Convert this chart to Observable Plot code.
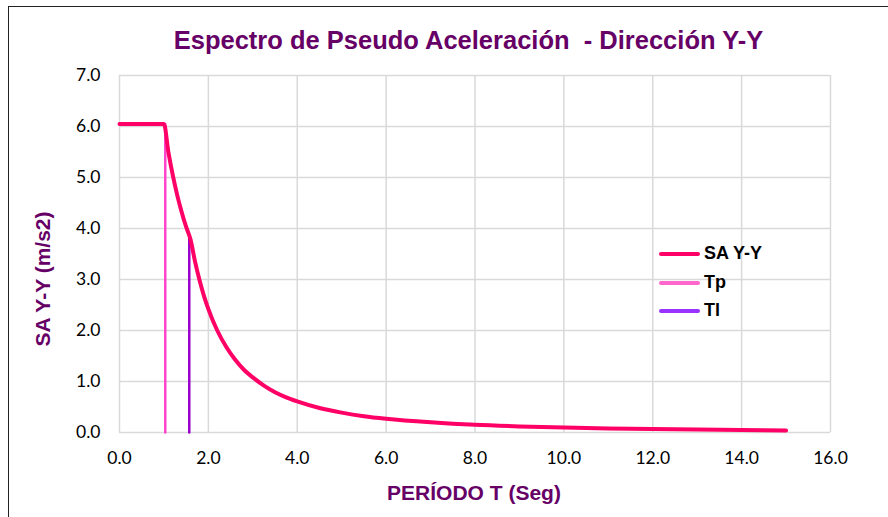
<!DOCTYPE html>
<html>
<head>
<meta charset="utf-8">
<script src="https://cdn.jsdelivr.net/npm/d3@7"></script>
<script src="https://cdn.jsdelivr.net/npm/@observablehq/plot@0.6"></script>
<style>
  html, body { margin: 0; padding: 0; background: #fff; }
  #wrap { position: relative; width: 888px; height: 517px; overflow: hidden; }
  #frame { position: absolute; left: 8px; top: 6px; width: 900px; height: 600px; border-left: 1.5px solid #222; border-top: 1.5px solid #222; box-sizing: border-box; }
  #chart { position: absolute; left: 0; top: 0; }
  .title { position: absolute; left: 0; width: 937px; top: 26px; text-align: center; font: bold 25.5px "Liberation Sans", Arial, sans-serif; color: #660066; white-space: pre; }
  .xlabel { position: absolute; left: 0; width: 948px; top: 481px; text-align: center; font: bold 21px "Liberation Sans", Arial, sans-serif; color: #660066; }
  .ylabel { position: absolute; left: 43px; top: 279px; transform: translate(-50%, -50%) rotate(-90deg); font: bold 21px "Liberation Sans", Arial, sans-serif; color: #660066; white-space: nowrap; }
  .leg { position: absolute; left: 659px; font: bold 18px "Liberation Sans", Arial, sans-serif; color: #000; display: flex; align-items: center; }
  .leg span.sw { display: inline-block; flex: 0 0 41px; width: 41px; height: 4px; border-radius: 2px; margin-right: 4px; }
</style>
</head>
<body>
<div id="wrap">
  <div id="frame"></div>
  <div id="chart"></div>
  <div class="title">Espectro de Pseudo Aceleración  - Dirección Y-Y</div>
  <div class="xlabel">PERÍODO T (Seg)</div>
  <div class="ylabel">SA Y-Y (m/s2)</div>
</div>
<script>
// Spectrum values
const periodT = [0, 0.5, 1.0, 1.1, 1.2, 1.3, 1.4, 1.5, 1.6, 1.7, 1.8, 1.9, 2.0, 2.2, 2.4, 2.6, 2.8, 3.0, 3.25, 3.5, 3.75, 4.0, 4.5, 5.0, 5.5, 6.0, 7.0, 8.0, 9.0, 10.0, 11.0, 12.0, 13.0, 14.0, 15.0];
const saYY    = [6.05, 6.05, 6.05, 5.50, 5.04, 4.65, 4.32, 4.03, 3.78, 3.35, 2.99, 2.68, 2.42, 2.00, 1.68, 1.43, 1.23, 1.08, 0.92, 0.79, 0.69, 0.61, 0.48, 0.39, 0.32, 0.27, 0.20, 0.15, 0.12, 0.10, 0.08, 0.07, 0.06, 0.05, 0.04];
const tpX = [1.03, 1.03];
const tpY = [0, 6.05];
const tlX = [1.57, 1.57];
const tlY = [0, 3.85];
const xTicks = [0, 2, 4, 6, 8, 10, 12, 14, 16];
const yTicks = [0, 1, 2, 3, 4, 5, 6, 7];
const seriesNames = ["SA Y-Y", "Tp", "Tl"];
const seriesColors = ["#FF0066", "#FF44CC", "#9900CC"];
const legendColors = ["#FF0066", "#FF66CC", "#9933FF"];

const sa = periodT.map((t, i) => ({t, v: saYY[i]}));
const tp = tpX.map((t, i) => ({t, v: tpY[i]}));
const tl = tlX.map((t, i) => ({t, v: tlY[i]}));

const chart = Plot.plot({
  width: 888,
  height: 517,
  marginLeft: 119,
  marginRight: 58,
  marginTop: 75,
  marginBottom: 85,
  style: { fontFamily: "Lato, 'Open Sans', sans-serif", fontSize: "17.5px", color: "#000", background: "transparent" },
  x: { domain: [0, 16], ticks: xTicks, tickFormat: d3.format(".1f"), tickSize: 0, tickPadding: 19, label: null },
  y: { domain: [0, 7], ticks: yTicks, tickFormat: d3.format(".1f"), tickSize: 0, tickPadding: 19, label: null },
  marks: [
    Plot.gridX(xTicks, { stroke: "#d9d9d9", strokeOpacity: 1, strokeWidth: 1.5 }),
    Plot.gridY(yTicks, { stroke: "#d9d9d9", strokeOpacity: 1, strokeWidth: 1.5 }),
    Plot.line(tp, { x: "t", y: "v", stroke: seriesColors[1], strokeWidth: 2.5 }),
    Plot.line(tl, { x: "t", y: "v", stroke: seriesColors[2], strokeWidth: 2.5 }),
    Plot.line(sa, { x: "t", y: "v", stroke: seriesColors[0], strokeWidth: 4, curve: "monotone-x", strokeLinecap: "round", strokeLinejoin: "round" })
  ]
});
document.getElementById("chart").appendChild(chart);

const wrap = document.getElementById("wrap");
const legTops = [243, 272, 300];
seriesNames.forEach((name, i) => {
  const d = document.createElement("div");
  d.className = "leg";
  d.style.top = legTops[i] + "px";
  d.innerHTML = `<span class="sw" style="background:${legendColors[i]}"></span>${name}`;
  wrap.appendChild(d);
});
</script>
</body>
</html>
